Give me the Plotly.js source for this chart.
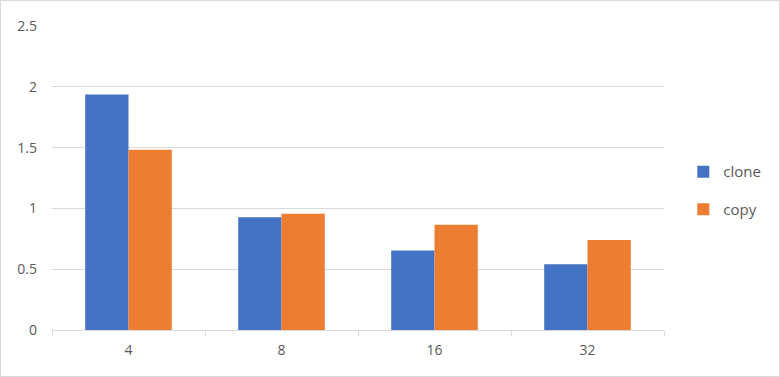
<!DOCTYPE html>
<html>
<head>
<meta charset="utf-8">
<script src="https://cdn.plot.ly/plotly-3.0.1.min.js"></script>
<style>
html,body{margin:0;padding:0;background:#fff;}
#chart{width:778px;height:375px;border:1px solid #d9d9d9;}
</style>
</head>
<body>
<div id="chart"></div>
<script>
var categories = ["4", "8", "16", "32"];
var cloneValues = [1.936, 0.928, 0.653, 0.541];
var copyValues = [1.483, 0.955, 0.865, 0.741];
var yTickValues = [0, 0.5, 1, 1.5, 2, 2.5];
var yTickLabels = ["0", "0.5", "1", "1.5", "2", "2.5"];

var font = {family: "Open Sans, Noto Sans, sans-serif", size: 14, color: "#595959"};

var data = [
  {type: "bar", name: "clone", x: categories, y: cloneValues, legendgroup: "a",
   marker: {color: "#4472C4", line: {width: 0}}},
  {type: "bar", name: "copy", x: categories, y: copyValues, legendgroup: "b",
   marker: {color: "#ED7D31", line: {width: 0}}}
];

var layout = {
  width: 778, height: 375,
  margin: {l: 51, r: 115, t: 25, b: 46},
  paper_bgcolor: "#fff", plot_bgcolor: "#fff",
  font: font,
  barmode: "group", bargap: 0.434, bargroupgap: 0,
  showlegend: true,
  legend: {xref: "container", yref: "container", x: 0.877, y: 0.495, xanchor: "left", yanchor: "middle",
           font: {family: font.family, size: 15, color: "#595959"},
           traceorder: "grouped", tracegroupgap: 15, itemwidth: 30},
  xaxis: {type: "category", showgrid: false, showline: true, linecolor: "#d9d9d9", linewidth: 1,
          ticks: "outside", tickson: "boundaries", tickcolor: "#d9d9d9", ticklen: 5,
          tickfont: font, zeroline: false, ticklabelstandoff: 7},
  yaxis: {range: [0, 2.5], tickvals: yTickValues, ticktext: yTickLabels, showgrid: true,
          gridcolor: "#d9d9d9", gridwidth: 1, showline: false, zeroline: false,
          ticks: "", ticklen: 0, tickfont: font, ticklabelstandoff: 14}
};

Plotly.newPlot("chart", data, layout, {displayModeBar: false, staticPlot: true});
</script>
</body>
</html>
